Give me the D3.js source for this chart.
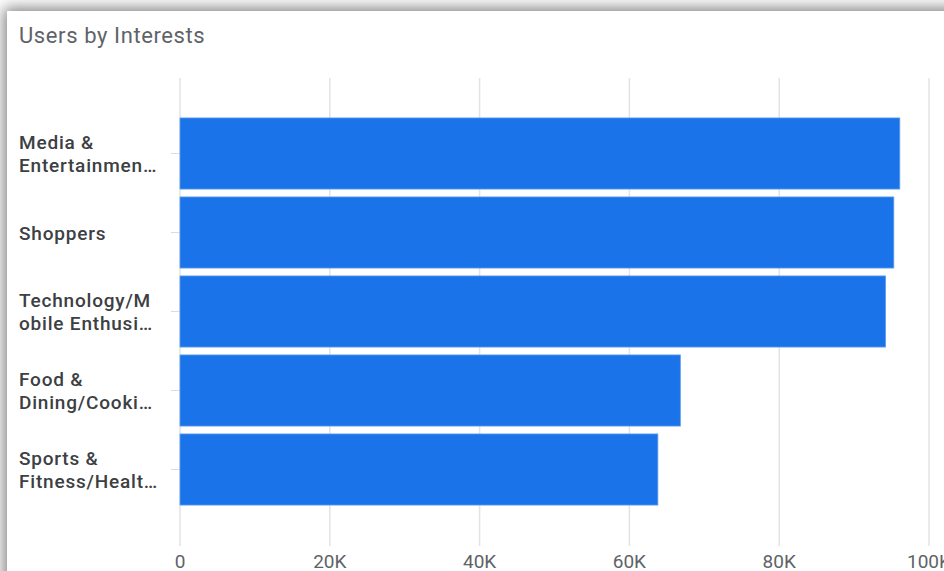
<!DOCTYPE html>
<html>
<head>
<meta charset="utf-8">
<script src="https://cdn.jsdelivr.net/npm/d3@7"></script>
<style>
  html, body { margin: 0; padding: 0; background: #fff; overflow: hidden; }
  #card { position: absolute; left: 7px; top: 11px; width: 1000px; height: 700px; background: #fff;
          box-shadow: 0 0 14px 3px rgba(0,0,0,0.5); }
  svg { position: absolute; left: 0; top: 0; }
</style>
</head>
<body>
<div id="card"></div>
<svg id="chart" width="944" height="571"></svg>
<script>
// data
var categories = [
  ["Media &", "Entertainmen…"],
  ["Shoppers"],
  ["Technology/M", "obile Enthusi…"],
  ["Food &", "Dining/Cooki…"],
  ["Sports &", "Fitness/Healt…"]
];
var users = [96100, 95300, 94200, 66800, 63800];
var xTicks = [0, 20000, 40000, 60000, 80000, 100000];
var tickLabels = ["0", "20K", "40K", "60K", "80K", "100K"];

var svg = d3.select("#chart");
var plotLeft = 180, plotRight = 929, gridTop = 78, gridBottom = 546;
var bandTop = 114, step = 79;

var x = d3.scaleLinear().domain([0, 100000]).range([plotLeft, plotRight]);
var y = d3.scaleBand().domain(d3.range(categories.length))
    .range([bandTop, bandTop + step * categories.length])
    .paddingInner(0.1).paddingOuter(0.05);

// title
svg.append("text")
    .attr("x", 19).attr("y", 43)
    .attr("font-family", "Roboto, sans-serif")
    .attr("font-size", 22)
    .attr("letter-spacing", 0.6)
    .attr("fill", "#5f6368")
    .text("Users by Interests");

// gridlines
svg.append("g").selectAll("line")
    .data(xTicks)
    .join("line")
    .attr("x1", d => x(d)).attr("x2", d => x(d))
    .attr("y1", gridTop).attr("y2", gridBottom)
    .attr("stroke", "#e2e3e5")
    .attr("stroke-width", 1.5);

// small ticks at category centers
svg.append("g").selectAll("line")
    .data(d3.range(categories.length))
    .join("line")
    .attr("x1", plotLeft - 9).attr("x2", plotLeft)
    .attr("y1", i => y(i) + y.bandwidth() / 2).attr("y2", i => y(i) + y.bandwidth() / 2)
    .attr("stroke", "#dadce0");

// bars
svg.append("g").selectAll("rect")
    .data(users)
    .join("rect")
    .attr("x", x(0))
    .attr("y", (d, i) => y(i))
    .attr("width", d => x(d) - x(0))
    .attr("height", y.bandwidth())
    .attr("fill", "#1a73e8")
    .attr("stroke", "#5d9cf0")
    .attr("stroke-width", 0.8);

// category labels
var lab = svg.append("g").selectAll("text")
    .data(categories)
    .join("text")
    .attr("font-family", "Roboto, sans-serif")
    .attr("font-size", 19)
    .attr("font-weight", 500)
    .attr("letter-spacing", 0.8)
    .attr("fill", "#3c4043")
    .attr("y", (d, i) => y(i) + y.bandwidth() / 2);
lab.each(function(d) {
    var t = d3.select(this);
    var n = d.length;
    d.forEach((line, j) => {
        t.append("tspan")
            .attr("x", 19)
            .attr("dy", j === 0 ? ((-(n - 1) * 23.5 / 2) + 7) : 23.5)
            .text(line);
    });
});

// x tick labels
svg.append("g").selectAll("text")
    .data(xTicks)
    .join("text")
    .attr("x", d => x(d))
    .attr("y", 568)
    .attr("text-anchor", "middle")
    .attr("font-family", "Roboto, sans-serif")
    .attr("font-size", 19)
    .attr("fill", "#5f6368")
    .text((d, i) => tickLabels[i]);
</script>
</body>
</html>
